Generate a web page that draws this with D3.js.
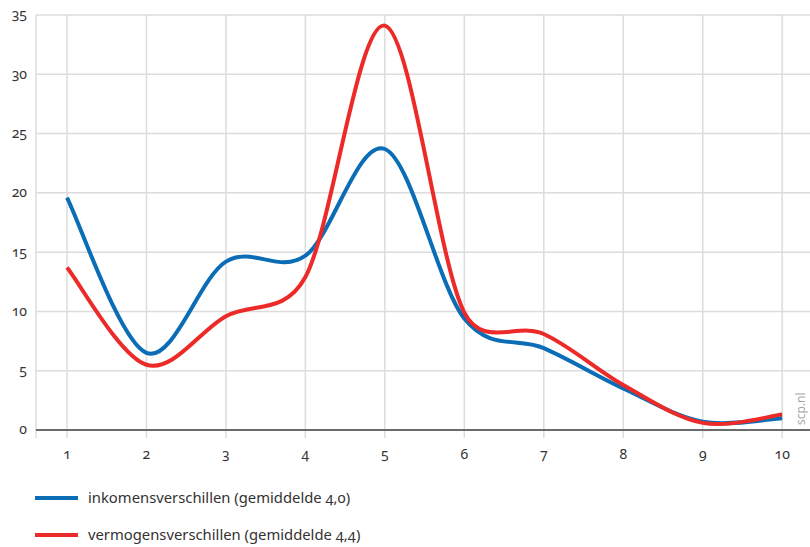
<!DOCTYPE html>
<html><head><meta charset="utf-8">
<script src="https://cdn.jsdelivr.net/npm/d3@7"></script>
<style>
body{margin:0;background:#fff;}
text{font-family:"Noto Sans",sans-serif;font-feature-settings:"onum" 1;}
</style></head>
<body><svg id="c" width="810" height="547"></svg>
<script>
const categories = [1,2,3,4,5,6,7,8,9,10];
const inkomens = [19.6,6.5,14.2,14.7,23.7,9.4,6.9,3.5,0.7,1.0];
const vermogens = [13.7,5.5,9.6,12.9,34.1,9.9,8.1,3.8,0.6,1.3];
const yTicks = [0,5,10,15,20,25,30,35];
const seriesNames = ["inkomensverschillen (gemiddelde 4,0)","vermogensverschillen (gemiddelde 4,4)"];
const colors = ["#0a6db5","#ec2a28"];

// spreadsheet-style smoothing: Bezier with control offsets (P[i+1]-P[i-1])/6, capped at half the adjacent segment
function SmoothCurve(context){ this._context = context; }
SmoothCurve.prototype = {
  areaStart(){}, areaEnd(){},
  lineStart(){ this._pts = []; },
  point(x,y){ this._pts.push([+x,+y]); },
  lineEnd(){
    const p = this._pts, n = p.length, c = this._context;
    if (!n) return;
    const dist = (a,b)=>Math.hypot(b[0]-a[0], b[1]-a[1]);
    const ctrl = p.map((pt,i)=>{
      const p0 = p[Math.max(0,i-1)], p2 = p[Math.min(n-1,i+1)];
      const d02 = dist(p0,p2) || 1, d01 = dist(p0,pt), d12 = dist(pt,p2);
      const fl = Math.min(1/6, d01/(2*d02)), fr = Math.min(1/6, d12/(2*d02));
      const dx = p2[0]-p0[0], dy = p2[1]-p0[1];
      return {l:[pt[0]-dx*fl, pt[1]-dy*fl], r:[pt[0]+dx*fr, pt[1]+dy*fr]};
    });
    c.moveTo(p[0][0], p[0][1]);
    for (let i=0;i<n-1;i++){
      c.bezierCurveTo(ctrl[i].r[0],ctrl[i].r[1],ctrl[i+1].l[0],ctrl[i+1].l[1],p[i+1][0],p[i+1][1]);
    }
  }
};
const curveSmooth = ctx => new SmoothCurve(ctx);

const svg = d3.select("#c");
const x = d3.scaleLinear().domain([0.61,10.35]).range([36,810]);
const y = d3.scaleLinear().domain([0,35]).range([430,15]);

// horizontal grid
svg.append("g").selectAll("line").data(yTicks.filter(d=>d>0)).join("line")
  .attr("x1",36).attr("x2",810).attr("y1",d=>y(d)).attr("y2",d=>y(d))
  .attr("stroke","#dcdcdc").attr("stroke-width",1.5);
// vertical grid
svg.append("g").selectAll("line").data(categories).join("line")
  .attr("x1",d=>x(d)).attr("x2",d=>x(d)).attr("y1",15).attr("y2",438)
  .attr("stroke","#dcdcdc").attr("stroke-width",1.5);
svg.append("line").attr("x1",36).attr("x2",36).attr("y1",15).attr("y2",438)
  .attr("stroke","#dcdcdc").attr("stroke-width",1.5);
// zero line
svg.append("line").attr("x1",36).attr("x2",810).attr("y1",y(0)).attr("y2",y(0))
  .attr("stroke","#6b6b6b").attr("stroke-width",2);

// y labels
svg.append("g").selectAll("text").data(yTicks).join("text")
  .attr("x",27).attr("y",d=>y(d)).attr("dy","0.32em").attr("text-anchor","end")
  .attr("font-size",14).attr("fill","#333").text(d=>d);
// x labels
svg.append("g").selectAll("text").data(categories).join("text")
  .attr("x",d=>x(d)).attr("y",459).attr("text-anchor","middle")
  .attr("font-size",14).attr("fill","#333").text(d=>d);

const line = d3.line().x((d,i)=>x(categories[i])).y(d=>y(d)).curve(curveSmooth);
[inkomens,vermogens].forEach((s,i)=>{
  svg.append("path").attr("d",line(s)).attr("fill","none")
    .attr("stroke",colors[i]).attr("stroke-width",4).attr("stroke-linecap","butt");
});

// watermark
svg.append("text").attr("transform","translate(805,425) rotate(-90)")
  .attr("font-size",12).attr("fill","#aaa").text("scp.nl");

// legend
seriesNames.forEach((n,i)=>{
  const yy = 498 + i*37;
  svg.append("line").attr("x1",35).attr("x2",78).attr("y1",yy).attr("y2",yy)
    .attr("stroke",colors[i]).attr("stroke-width",4);
  svg.append("text").attr("x",88).attr("y",yy).attr("dy","0.35em")
    .attr("font-size",14.8).attr("fill","#333").text(n);
});
</script></body></html>
